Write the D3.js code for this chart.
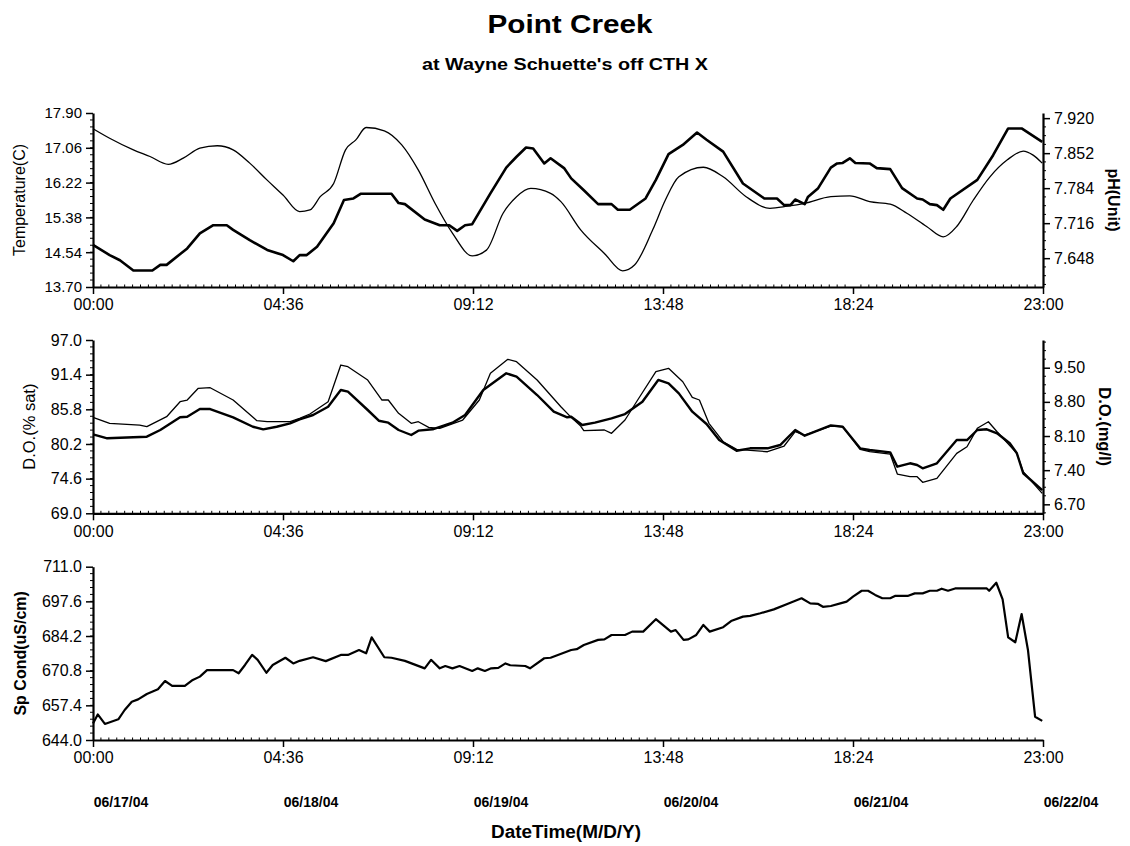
<!DOCTYPE html>
<html>
<head>
<meta charset="utf-8">
<script src="https://cdn.jsdelivr.net/npm/d3@7"></script>
<style>
  body { margin: 0; background: #fff; }
  svg { display: block; font-family: "Liberation Sans", Arial, sans-serif; }
</style>
</head>
<body>
<svg id="chart" width="1130" height="846"></svg>
<script>
// --- data: [hours since 06/17/04 00:00, value] ---
const temperature = [[0,17.52],[2.1,17.29],[5.1,17.01],[7.2,16.85],[9.5,16.66],[11.4,16.81],[13.5,17.05],[15.7,17.11],[17.7,17.01],[19.8,16.69],[22.0,16.28],[24.0,15.92],[26.1,15.52],[27.4,15.56],[28.7,15.88],[30.4,16.20],[31.9,17.01],[33.2,17.25],[34.5,17.55],[36.8,17.47],[39.0,17.13],[41.1,16.52],[43.2,15.72],[45.4,15.00],[47.9,14.45],[49.7,14.59],[51.8,15.48],[53.5,15.88],[55.3,16.08],[57.8,15.96],[59.1,15.76],[61.6,15.08],[64.6,14.51],[66.9,14.09],[68.4,14.23],[70.7,15.08],[72.3,15.80],[74.0,16.36],[77.1,16.59],[79.6,16.36],[82.5,15.88],[85.5,15.60],[87.7,15.65],[89.9,15.72],[93.2,15.88],[95.6,15.90],[98.1,15.76],[100.7,15.70],[102.8,15.48],[105.3,15.16],[107.4,14.91],[109.1,15.16],[111.2,15.80],[113.3,16.36],[115.5,16.77],[117.5,16.98],[118.7,16.89],[119.9,16.69]];

const ph = [[0,7.674],[2.1,7.654],[3.4,7.644],[5.1,7.624],[7.5,7.624],[8.5,7.635],[9.3,7.635],[11.9,7.667],[13.5,7.696],[15.2,7.712],[16.9,7.712],[17.7,7.703],[19.8,7.683],[22.0,7.664],[24.0,7.654],[25.3,7.642],[26.1,7.654],[27.0,7.654],[28.3,7.670],[30.4,7.716],[31.7,7.761],[32.9,7.764],[33.8,7.773],[37.7,7.773],[38.6,7.755],[39.4,7.753],[41.9,7.723],[43.8,7.712],[45.0,7.712],[46.0,7.701],[47.0,7.712],[47.9,7.714],[50.2,7.774],[52.2,7.824],[53.5,7.845],[54.7,7.863],[55.6,7.861],[57.0,7.832],[57.8,7.842],[59.5,7.823],[60.4,7.803],[62.0,7.780],[63.8,7.753],[65.5,7.753],[66.3,7.742],[67.8,7.742],[69.8,7.764],[71.1,7.800],[72.7,7.850],[74.5,7.868],[76.3,7.892],[77.5,7.878],[79.6,7.855],[82.1,7.793],[84.8,7.764],[86.4,7.764],[87.3,7.751],[88.1,7.751],[88.7,7.762],[89.9,7.753],[90.3,7.767],[91.6,7.784],[93.2,7.824],[94.0,7.832],[94.7,7.833],[95.6,7.842],[96.3,7.833],[98.1,7.832],[99.0,7.823],[100.7,7.821],[102.2,7.784],[104.1,7.764],[104.8,7.762],[105.7,7.753],[106.6,7.751],[107.4,7.742],[108.3,7.764],[111.7,7.800],[113.7,7.848],[115.6,7.900],[117.3,7.900],[119.9,7.874]];

const doSat = [[0,81.76],[1.8,81.12],[5.1,81.28],[6.8,81.38],[8.5,82.46],[11.0,84.51],[11.9,84.60],[13.5,85.85],[14.8,85.85],[17.7,84.51],[20.2,82.99],[21.5,82.57],[23.2,82.99],[24.9,83.54],[26.1,84.19],[27.8,84.88],[29.7,86.22],[31.3,88.92],[32.2,88.65],[34.7,85.69],[36.1,83.96],[37.3,83.64],[38.6,82.46],[40.2,81.65],[41.1,82.35],[42.9,82.57],[45.4,83.64],[47.0,84.88],[49.3,88.92],[52.2,91.62],[53.5,91.07],[56.1,88.11],[58.2,85.42],[59.9,84.51],[60.4,84.60],[61.8,83.26],[63.4,83.64],[65.5,84.35],[67.2,85.04],[69.4,87.03],[71.4,90.54],[72.7,90.00],[74.0,88.38],[75.7,85.42],[77.5,83.43],[79.1,80.84],[81.3,79.11],[83.0,79.50],[85.2,79.50],[86.8,80.03],[88.7,82.46],[89.9,81.54],[93.2,83.20],[94.7,82.99],[96.9,79.50],[98.1,79.23],[100.7,78.85],[101.6,76.53],[103.2,77.08],[104.1,76.80],[104.8,76.27],[106.6,77.08],[109.1,80.84],[110.4,80.84],[111.7,82.46],[112.9,82.57],[114.2,81.93],[115.8,80.31],[116.7,78.70],[117.5,75.47],[119.9,72.76]];

const doMgl = [[0,8.483],[2.1,8.360],[5.9,8.325],[6.8,8.291],[9.3,8.496],[11.0,8.803],[11.9,8.838],[13.3,9.078],[14.8,9.090],[17.7,8.838],[20.7,8.414],[22.0,8.393],[24.9,8.393],[26.1,8.463],[27.4,8.551],[29.7,8.803],[31.3,9.555],[32.2,9.520],[34.7,9.248],[36.5,8.838],[37.3,8.838],[38.6,8.565],[40.2,8.360],[41.1,8.393],[42.4,8.278],[43.8,8.258],[46.7,8.428],[48.8,8.838],[50.2,9.385],[52.4,9.672],[53.5,9.623],[56.1,9.248],[59.1,8.701],[60.4,8.483],[61.6,8.305],[62.0,8.209],[64.6,8.223],[65.5,8.155],[67.2,8.428],[68.8,8.838],[71.1,9.418],[72.7,9.488],[74.5,9.213],[75.7,8.893],[76.6,8.838],[77.8,8.360],[79.6,7.983],[81.3,7.827],[85.2,7.778],[87.3,7.895],[88.7,8.188],[89.9,8.120],[93.2,8.305],[94.7,8.291],[96.9,7.827],[98.1,7.778],[100.7,7.731],[101.6,7.321],[103.2,7.266],[104.1,7.266],[104.8,7.151],[106.6,7.233],[109.1,7.745],[110.4,7.881],[111.7,8.258],[113.1,8.393],[114.2,8.188],[116.7,7.745],[117.5,7.368],[119.9,6.925]];

const spCond = [[0,650.4],[0.6,653.9],[1.5,650.2],[3.2,652.0],[4.0,655.6],[4.9,658.8],[5.7,659.7],[6.8,661.8],[8.2,663.6],[9.1,666.8],[10.0,664.9],[11.6,664.9],[12.6,667.2],[13.5,668.5],[14.4,671.0],[17.7,671.0],[18.4,669.8],[19.2,673.0],[20.1,676.9],[20.8,675.0],[21.9,670.0],[22.7,673.0],[24.3,675.8],[25.3,673.6],[26.1,674.6],[27.8,676.0],[29.4,674.5],[31.3,676.9],[32.2,676.9],[33.6,678.8],[34.5,677.5],[35.2,683.7],[36.8,676.0],[37.7,675.8],[39.4,674.6],[41.9,671.7],[42.7,675.0],[43.8,671.7],[44.5,672.6],[45.4,671.7],[46.3,672.6],[47.9,670.7],[48.6,671.7],[49.5,670.7],[50.3,671.7],[51.2,671.9],[52.1,673.6],[52.7,672.9],[54.6,672.6],[55.2,671.7],[57.0,675.6],[57.8,675.8],[60.4,678.8],[61.1,679.1],[62.0,680.7],[63.8,682.7],[64.6,682.9],[65.5,684.6],[67.2,684.6],[68.1,685.9],[69.5,685.9],[71.1,690.7],[73.0,685.9],[73.6,686.5],[74.6,682.7],[75.2,682.9],[76.2,684.6],[77.1,688.5],[77.9,685.9],[79.6,687.6],[80.6,690.0],[82.1,691.7],[83.0,692.0],[84.3,693.0],[86.0,694.5],[87.7,696.6],[89.5,698.8],[90.6,696.8],[91.6,696.6],[92.2,695.5],[93.2,695.8],[94.4,696.8],[95.2,697.5],[96.0,699.4],[97.1,701.7],[97.9,701.7],[98.8,700.1],[99.7,698.8],[100.7,698.8],[101.3,699.7],[102.9,699.7],[103.8,700.7],[104.8,700.7],[105.7,701.7],[106.6,701.7],[107.2,702.5],[108.0,701.7],[108.9,702.6],[112.9,702.6],[113.2,701.7],[114.1,704.8],[114.9,698.4],[115.6,683.7],[116.5,681.8],[117.3,692.7],[118.1,678.8],[119.0,653.0],[119.9,651.4]];

// ticks
const timeTicks = [0, 24, 48, 72, 96, 120];
const timeLabels = ["00:00", "04:36", "09:12", "13:48", "18:24", "23:00"];
const dateLabels = ["06/17/04", "06/18/04", "06/19/04", "06/20/04", "06/21/04", "06/22/04"];
const tempTicks = [13.70, 14.54, 15.38, 16.22, 17.06, 17.90];
const phTicks = [7.648, 7.716, 7.784, 7.852, 7.920];
const satTicks = [69.0, 74.6, 80.2, 85.8, 91.4, 97.0];
const mglTicks = [6.70, 7.40, 8.10, 8.80, 9.50];
const condTicks = [644.0, 657.4, 670.8, 684.2, 697.6, 711.0];

const svg = d3.select("#chart");
const x = d3.scaleLinear().domain([0, 120]).range([93, 1043]);
const FONT = "'Liberation Sans', Arial, sans-serif";

// --- panels ---
const panels = [
  {
    top: 113, bottom: 287,
    left:  { domain: [13.70, 17.90], ticks: tempTicks, fmt: ".2f", label: "Temperature(C)", lx: 19, size: 16, weight: "normal", tick: 15 },
    right: { domain: [7.592, 7.930], ticks: phTicks, fmt: ".3f", label: "pH(Unit)", lx: 1114, size: 16, weight: "bold" },
    lines: [ { data: temperature, side: "left", w: 1.3, smooth: true }, { data: ph, side: "right", w: 2.6 } ]
  },
  {
    top: 340, bottom: 513.3,
    left:  { domain: [69.0, 97.0], ticks: satTicks, fmt: ".1f", label: "D.O.(% sat)", lx: 29, size: 16.5, weight: "normal", tick: 16 },
    right: { domain: [6.516, 10.068], ticks: mglTicks, fmt: ".2f", label: "D.O.(mg/l)", lx: 1105, size: 16.5, weight: "bold" },
    lines: [ { data: doMgl, side: "right", w: 1.3 }, { data: doSat, side: "left", w: 2.4 } ]
  },
  {
    top: 566.7, bottom: 740,
    left:  { domain: [644.0, 711.0], ticks: condTicks, fmt: ".1f", label: "Sp Cond(uS/cm)", lx: 20, size: 16, weight: "bold", tick: 16 },
    right: null,
    lines: [ { data: spCond, side: "left", w: 2.2 } ]
  }
];

panels.forEach(p => {
  const g = svg.append("g");
  const yL = d3.scaleLinear().domain(p.left.domain).range([p.bottom, p.top]);
  const yR = p.right ? d3.scaleLinear().domain(p.right.domain).range([p.bottom, p.top]) : null;

  // minor ticks on x axis (hourly, pointing into the plot)
  g.append("g").selectAll("line")
    .data(d3.range(1, 120).filter(h => h % 24 !== 0))
    .join("line")
    .attr("x1", d => x(d)).attr("x2", d => x(d))
    .attr("y1", p.bottom).attr("y2", p.bottom - 2.5)
    .attr("stroke", "#000").attr("stroke-width", 1);

  // minor ticks on left axis
  const lStep = (p.left.ticks[1] - p.left.ticks[0]) / 5;
  g.append("g").selectAll("line")
    .data(d3.range(p.left.domain[0] + lStep, p.left.domain[1] - lStep / 2, lStep))
    .join("line")
    .attr("x1", 93).attr("x2", 90)
    .attr("y1", d => yL(d)).attr("y2", d => yL(d))
    .attr("stroke", "#000").attr("stroke-width", 1);

  // x axis
  const xAxis = g.append("g")
    .attr("transform", `translate(0,${p.bottom})`)
    .call(d3.axisBottom(x).tickValues(timeTicks).tickFormat((d, i) => timeLabels[i])
      .tickSize(7).tickSizeOuter(0).tickPadding(5));
  xAxis.select(".domain").attr("stroke-width", 2.2);
  xAxis.selectAll(".tick line").attr("stroke-width", 1.5);
  xAxis.selectAll("text").attr("font-size", 16).attr("fill", "#000").attr("font-family", FONT);

  // left axis
  const lAxis = g.append("g")
    .attr("transform", "translate(93,0)")
    .call(d3.axisLeft(yL).tickValues(p.left.ticks).tickFormat(d3.format(p.left.fmt))
      .tickSize(7).tickSizeOuter(0).tickPadding(4));
  lAxis.select(".domain").attr("stroke-width", 2.2);
  lAxis.selectAll(".tick line").attr("stroke-width", 1.5);
  lAxis.selectAll("text").attr("font-size", p.left.tick).attr("fill", "#000").attr("font-family", FONT);

  g.append("text")
    .attr("transform", `translate(${p.left.lx},${(p.top + p.bottom) / 2}) rotate(-90)`)
    .attr("text-anchor", "middle").attr("dy", "0.35em")
    .attr("font-size", p.left.size).attr("font-weight", p.left.weight)
    .text(p.left.label);

  // right axis
  if (p.right) {
    const rStep = (p.right.ticks[1] - p.right.ticks[0]) / 4;
    g.append("g").selectAll("line")
      .data(d3.range(p.right.ticks[0] - rStep * Math.floor((p.right.ticks[0] - p.right.domain[0]) / rStep), p.right.domain[1], rStep)
        .filter(v => !p.right.ticks.some(t => Math.abs(t - v) < rStep / 3)))
      .join("line")
      .attr("x1", 1043).attr("x2", 1046)
      .attr("y1", d => yR(d)).attr("y2", d => yR(d))
      .attr("stroke", "#000").attr("stroke-width", 1);

    const rAxis = g.append("g")
      .attr("transform", "translate(1043,0)")
      .call(d3.axisRight(yR).tickValues(p.right.ticks).tickFormat(d3.format(p.right.fmt))
        .tickSize(7).tickSizeOuter(0).tickPadding(4));
    rAxis.select(".domain").attr("stroke-width", 2.2);
    rAxis.selectAll(".tick line").attr("stroke-width", 1.5);
    rAxis.selectAll("text").attr("font-size", 16).attr("fill", "#000").attr("font-family", FONT);

    g.append("text")
      .attr("transform", `translate(${p.right.lx},${(p.top + p.bottom) / 2}) rotate(90)`)
      .attr("text-anchor", "middle").attr("dy", "0.35em")
      .attr("font-size", p.right.size).attr("font-weight", p.right.weight)
      .text(p.right.label);
  }

  // series
  p.lines.forEach(s => {
    const y = s.side === "left" ? yL : yR;
    const line = d3.line().x(d => x(d[0])).y(d => y(d[1]));
    if (s.smooth) line.curve(d3.curveMonotoneX);
    g.append("path")
      .datum(s.data)
      .attr("fill", "none")
      .attr("stroke", "#000")
      .attr("stroke-width", s.w)
      .attr("stroke-linejoin", "round")
      .attr("d", line);
  });
});

// date labels under the last panel
svg.append("g").selectAll("text")
  .data(dateLabels)
  .join("text")
  .attr("x", (d, i) => x(timeTicks[i]) + 28)
  .attr("y", 807)
  .attr("text-anchor", "middle")
  .attr("font-size", 14).attr("font-weight", "bold")
  .text(d => d);

svg.append("text")
  .attr("x", 566).attr("y", 838)
  .attr("text-anchor", "middle")
  .attr("font-size", 18).attr("font-weight", "bold")
  .attr("textLength", 150).attr("lengthAdjust", "spacingAndGlyphs")
  .text("DateTime(M/D/Y)");

// titles
svg.append("text")
  .attr("x", 570).attr("y", 33)
  .attr("text-anchor", "middle")
  .attr("font-size", 26).attr("font-weight", "bold")
  .attr("textLength", 165).attr("lengthAdjust", "spacingAndGlyphs")
  .text("Point Creek");

svg.append("text")
  .attr("x", 565).attr("y", 70)
  .attr("text-anchor", "middle")
  .attr("font-size", 17).attr("font-weight", "bold")
  .attr("textLength", 286).attr("lengthAdjust", "spacingAndGlyphs")
  .text("at Wayne Schuette's off CTH X");
</script>
</body>
</html>
